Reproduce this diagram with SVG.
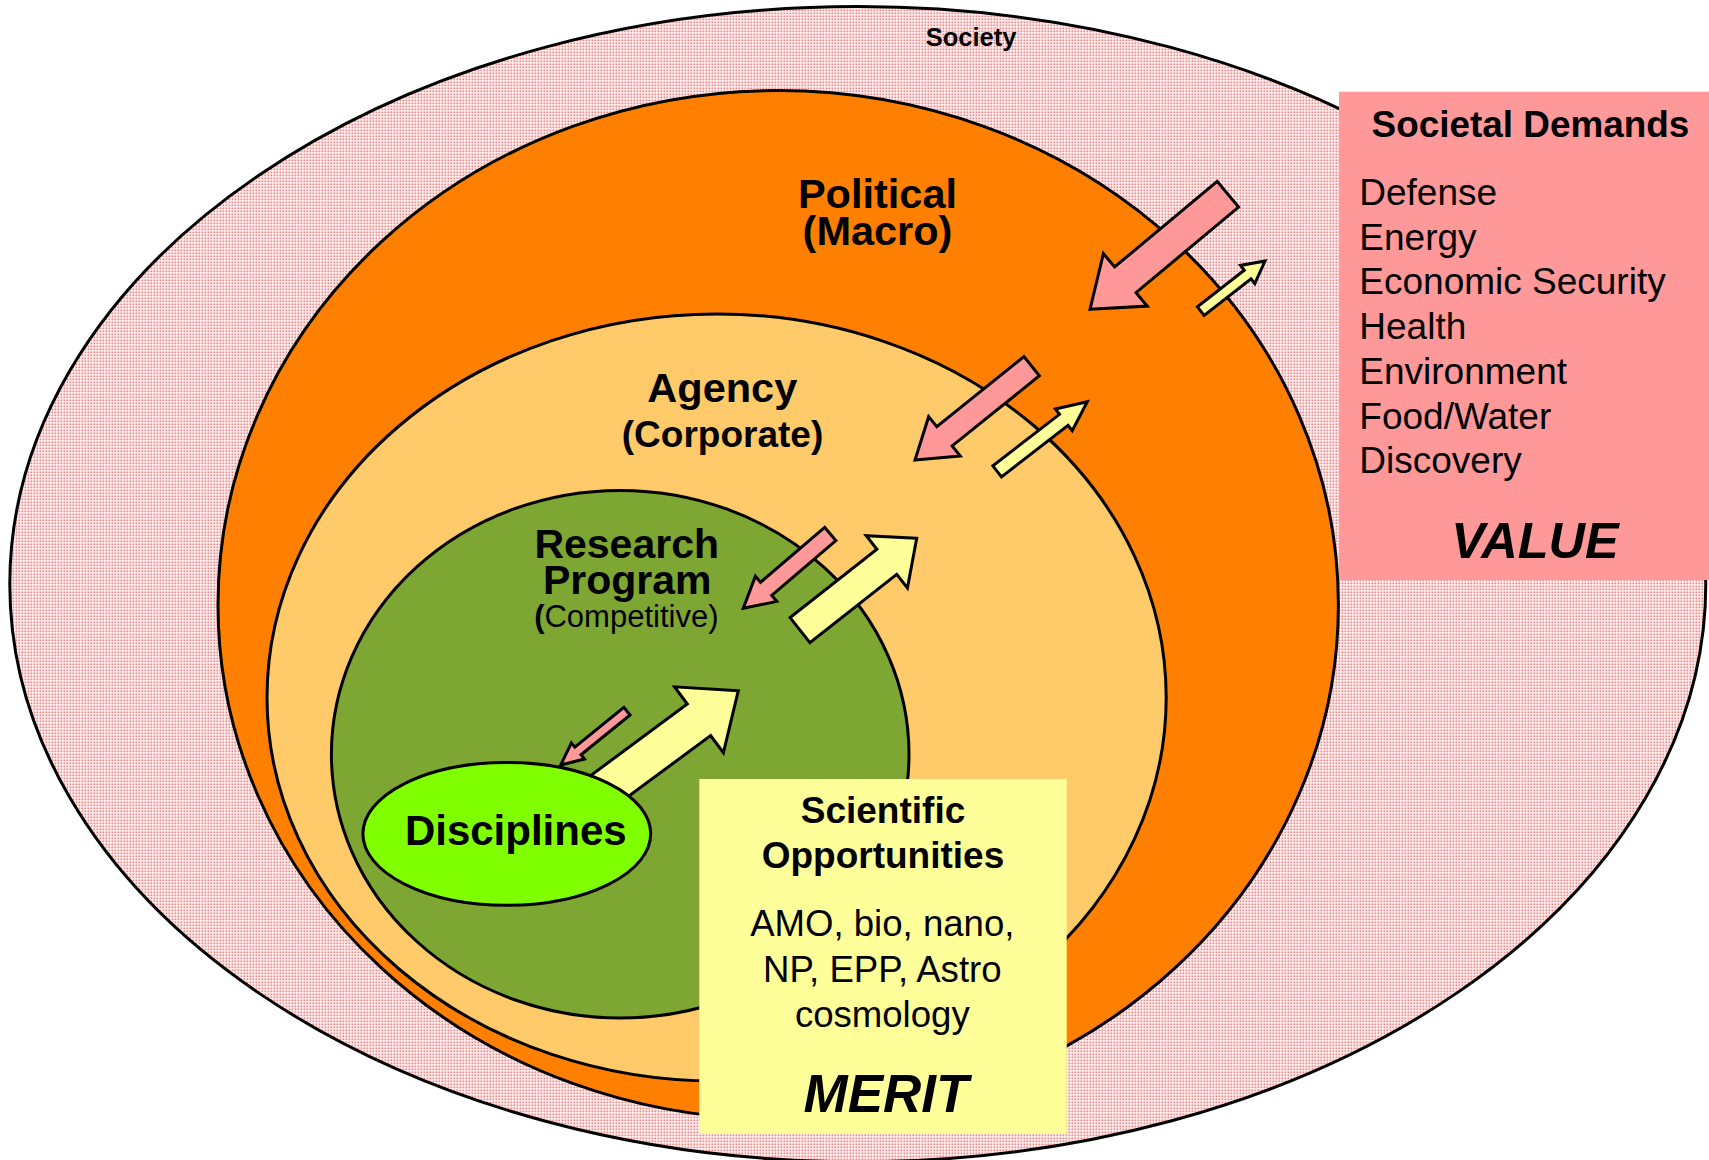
<svg xmlns="http://www.w3.org/2000/svg" width="1709" height="1160" viewBox="0 0 1709 1160">
<defs>
<pattern id="dots" width="3" height="3" patternUnits="userSpaceOnUse">
<rect width="3" height="3" fill="#fff2f2"/>
<rect x="0.5" y="0.5" width="1.7" height="1.7" fill="#f08484"/>
</pattern>
</defs>
<style>
.ring{stroke:#000;stroke-width:3}
.b{font-family:"Liberation Sans",Arial,sans-serif;font-weight:bold;fill:#000}
.r{font-family:"Liberation Sans",Arial,sans-serif;font-weight:normal;fill:#000}
.bi{font-family:"Liberation Sans",Arial,sans-serif;font-weight:bold;font-style:italic;fill:#000}
.mid{text-anchor:middle}
.pink{fill:#ff9999;stroke:#000;stroke-width:3;stroke-linejoin:miter}
.yel{fill:#ffff99;stroke:#000;stroke-width:3;stroke-linejoin:miter}
</style>
<rect width="1709" height="1160" fill="#fff"/>
<g id="society">
<ellipse class="ring" cx="857.8" cy="584.2" rx="848" ry="577.6" fill="url(#dots)"/>
<text class="b mid" x="971" y="46" font-size="25.5">Society</text>
</g>
<g id="political">
<ellipse class="ring" cx="778.2" cy="604.9" rx="560.2" ry="514.4" fill="#ff8000"/>
<text class="b mid" x="877.5" y="208.3" font-size="41.5">Political</text>
<text class="b mid" x="877.5" y="245" font-size="41.5">(Macro)</text>
</g>
<g id="agency">
<ellipse class="ring" cx="716.6" cy="697.5" rx="449.6" ry="383.6" fill="#ffca6a"/>
<text class="b mid" x="722.3" y="401.7" font-size="41.5">Agency</text>
<text class="b mid" x="722.5" y="446.7" font-size="37">(Corporate)</text>
</g>
<g id="research-program">
<ellipse class="ring" cx="620.2" cy="754.2" rx="288.8" ry="263.8" fill="#7ea632"/>
<text class="b mid" x="626.7" y="558.3" font-size="41">Research</text>
<text class="b mid" x="627.2" y="594" font-size="41">Program</text>
<text class="r mid" x="626.3" y="627" font-size="31"><tspan font-weight="bold">(</tspan>Competitive)</text>
</g>
<g id="connectors">
<polygon class="pink" transform="translate(1090,309.3) rotate(140.15)" points="0,0 -46,-34.2 -46,-16.7 -179.6,-16.7 -179.6,16.7 -46,16.7 -46,34.2"/>
<polygon class="yel" transform="translate(1265,261) rotate(-38)" points="0,0 -22,-11.6 -22,-5.5 -81.5,-5.5 -81.5,5.5 -22,5.5 -22,11.6"/>
<polygon class="pink" transform="translate(915,460) rotate(141.2)" points="0,0 -37.8,-25.2 -37.8,-12.3 -149.7,-12.3 -149.7,12.3 -37.8,12.3 -37.8,25.2"/>
<polygon class="yel" transform="translate(1087.3,401.7) rotate(-37.7)" points="0,0 -29.7,-13.8 -29.7,-7 -113.9,-7 -113.9,7 -29.7,7 -29.7,13.8"/>
<polygon class="pink" transform="translate(743.3,608.3) rotate(139.5)" points="0,0 -30,-16.5 -30,-8.6 -114.4,-8.6 -114.4,8.6 -30,8.6 -30,16.5"/>
<polygon class="yel" transform="translate(916.7,538.3) rotate(-38.2)" points="0,0 -38,-33.3 -38,-16 -148.5,-16 -148.5,16 -38,16 -38,33.3"/>
<polygon class="pink" transform="translate(560.7,765) rotate(140.9)" points="0,0 -22.2,-10.4 -22.2,-4.9 -85.4,-4.9 -85.4,4.9 -22.2,4.9 -22.2,10.4"/>
<polygon class="yel" transform="translate(738.3,690.7) rotate(-36.5)" points="0,0 -48.9,-41 -48.9,-19.6 -180,-19.6 -180,19.6 -48.9,19.6 -48.9,41"/>
</g>
<g id="disciplines">
<ellipse class="ring" cx="506.8" cy="833.8" rx="143.9" ry="71.4" fill="#80ff00"/>
<text class="b mid" x="515.8" y="845" font-size="42">Disciplines</text>
</g>
<g id="scientific-opportunities">
<rect x="699.3" y="779" width="367.4" height="354" fill="#ffff99"/>
<text class="b mid" x="883" y="823.3" font-size="37">Scientific</text>
<text class="b mid" x="883" y="868.3" font-size="37">Opportunities</text>
<text class="r mid" x="882.3" y="936" font-size="36.6">AMO, bio, nano,</text>
<text class="r mid" x="882.3" y="981.7" font-size="36.6">NP, EPP, Astro</text>
<text class="r mid" x="882.3" y="1026.7" font-size="36.6">cosmology</text>
<text class="bi mid" x="886" y="1111.7" font-size="53">MERIT</text>
</g>
<g id="societal-demands">
<rect x="1339" y="91.7" width="370" height="488.3" fill="#ff9999"/>
<text class="b mid" x="1530.5" y="137.3" font-size="36.9">Societal Demands</text>
<text class="r" x="1359.3" y="205" font-size="37">Defense</text>
<text class="r" x="1359.3" y="249.7" font-size="37">Energy</text>
<text class="r" x="1359.3" y="294.4" font-size="37">Economic Security</text>
<text class="r" x="1359.3" y="339.1" font-size="37">Health</text>
<text class="r" x="1359.3" y="383.8" font-size="37">Environment</text>
<text class="r" x="1359.3" y="428.5" font-size="37">Food/Water</text>
<text class="r" x="1359.3" y="473.2" font-size="37">Discovery</text>
<text class="bi mid" x="1535" y="558.3" font-size="50.5">VALUE</text>
</g>
</svg>
